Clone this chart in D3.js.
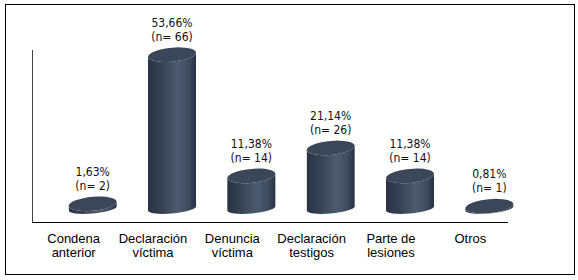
<!DOCTYPE html>
<html><head><meta charset="utf-8">
<script src="https://cdn.jsdelivr.net/npm/d3@7"></script>
<style>
html,body{margin:0;padding:0;background:#fff;}
svg{display:block;}
</style></head>
<body>
<svg id="chart" width="578" height="280"></svg>
<script>
const categories = [["Condena","anterior"],["Declaración","víctima"],["Denuncia","víctima"],["Declaración","testigos"],["Parte de","lesiones"],["Otros"]];
const percents = [1.63, 53.66, 11.38, 21.14, 11.38, 0.81];
const counts = [2, 66, 14, 26, 14, 1];
const pctLabels = ["1,63%","53,66%","11,38%","21,14%","11,38%","0,81%"];

const svg = d3.select("#chart");

// border
svg.append("rect").attr("x",5.5).attr("y",4.5).attr("width",569).attr("height",270)
  .attr("fill","#fff").attr("stroke","#000").attr("stroke-width",1);

const x = d3.scaleBand().domain(d3.range(categories.length)).range([33,509]);
const y = d3.scaleLinear().domain([0,60]).range([222,50]);

const defs = svg.append("defs");
const g = defs.append("linearGradient").attr("id","cyl").attr("x1",0).attr("x2",1).attr("y1",0).attr("y2",0);
g.append("stop").attr("offset","0").attr("stop-color","#29334378");
g.append("stop").attr("offset","0").attr("stop-color","#293343");
g.append("stop").attr("offset","0.25").attr("stop-color","#343f51");
g.append("stop").attr("offset","0.62").attr("stop-color","#4d5b70");
g.append("stop").attr("offset","0.85").attr("stop-color","#3f4b5e");
g.append("stop").attr("offset","1").attr("stop-color","#283141");

// axes lines
svg.append("line").attr("x1",32.5).attr("x2",32.5).attr("y1",y(60)).attr("y2",y(0))
  .attr("stroke","#444").attr("stroke-width",1);
svg.append("line").attr("x1",32).attr("x2",508).attr("y1",y(0)+0.5).attr("y2",y(0)+0.5)
  .attr("stroke","#000").attr("stroke-width",1);

const depth = 13.5, dx = 20;
const rx = 24, ryTop = 7, ryBot = 5;
const skew = -5;

percents.forEach((v,i)=>{
  const cx = x(i) + x.bandwidth()/2 + dx;
  const yBase = y(0) - depth;
  const yTop = y(v) - depth;
  const grp = svg.append("g")
    .attr("transform",`translate(${cx},${yBase}) skewY(${skew}) translate(${-cx},${-yBase})`);
  const body = `M${cx-rx},${yTop} L${cx-rx},${yBase} A${rx},${ryBot} 0 0 0 ${cx+rx},${yBase} L${cx+rx},${yTop} A${rx},${ryTop} 0 0 1 ${cx-rx},${yTop} Z`;
  grp.append("path").attr("d",body).attr("fill","url(#cyl)");
  grp.append("ellipse").attr("cx",cx).attr("cy",yTop).attr("rx",rx).attr("ry",ryTop)
    .attr("fill","#3b4658");
  // labels
  const base2 = yTop - ryTop - 7;
  const font = "'DejaVu Sans Condensed','DejaVu Sans',sans-serif";
  svg.append("text").attr("text-anchor","middle").attr("font-family",font)
    .attr("font-size","12px").attr("fill","#111")
    .attr("x",cx).attr("y",base2-14).text(pctLabels[i]);
  svg.append("text").attr("text-anchor","middle").attr("font-family",font)
    .attr("font-size","12px").attr("fill","#111")
    .attr("x",cx).attr("y",base2).text(`(n= ${counts[i]})`);
});

// category labels
categories.forEach((lines,i)=>{
  const cx = x(i) + x.bandwidth()/2 + 1;
  lines.forEach((s,j)=>{
    svg.append("text").attr("text-anchor","middle")
      .attr("font-family","'Liberation Sans',Arial,sans-serif")
      .attr("font-size","13px").attr("fill","#000")
      .attr("x",cx).attr("y",243 + j*14).text(s);
  });
});
</script>
</body></html>
